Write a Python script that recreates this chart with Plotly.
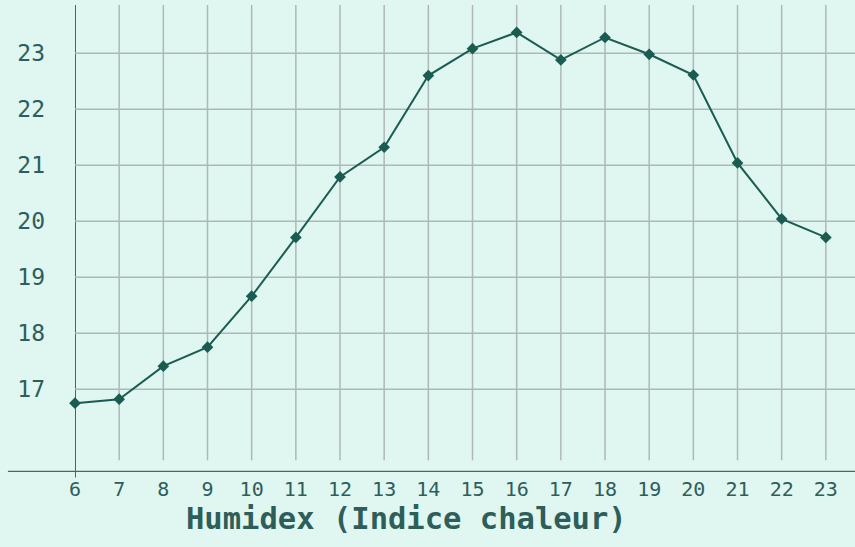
import plotly.graph_objects as go

hours = list(range(6, 24))
humidex = [16.75, 16.82, 17.41, 17.75, 18.66, 19.71, 20.79, 21.32, 22.60, 23.08,
           23.37, 22.88, 23.28, 22.98, 22.61, 21.04, 20.04, 19.71]
y_ticks = [17, 18, 19, 20, 21, 22, 23]
x_title = "Humidex (Indice chaleur)"

bg = "#dff6f1"
grid = "#b0b8b7"
axis_col = "#3d6b66"
line_col = "#1b5c52"
text_col = "#2e5e5a"

x_range = [6, 23.66]
y_range = [15.52, 23.86]

fig = go.Figure()
fig.add_trace(go.Scatter(
    x=hours, y=humidex, mode="lines+markers",
    line=dict(color=line_col, width=2),
    marker=dict(symbol="diamond", size=9, color=line_col),
    hoverinfo="skip", showlegend=False, cliponaxis=False,
))

shapes = []
for h in hours[1:]:
    shapes.append(dict(type="line", xref="x", yref="y", x0=h, x1=h, y0=15.73, y1=y_range[1],
                       line=dict(color=grid, width=1.5), layer="below"))
for t in y_ticks:
    shapes.append(dict(type="line", xref="x", yref="y", x0=6, x1=x_range[1], y0=t, y1=t,
                       line=dict(color=grid, width=1.5), layer="below"))
shapes.append(dict(type="line", xref="x", yref="paper", x0=6, x1=6, y0=-0.012, y1=1,
                   line=dict(color=axis_col, width=2), layer="below"))
shapes.append(dict(type="line", xref="paper", yref="y", x0=-0.086, x1=1, y0=y_range[0], y1=y_range[0],
                   line=dict(color=axis_col, width=2.5), layer="below"))

fig.update_layout(
    width=855, height=547,
    margin=dict(l=75, r=0, t=5, b=75),
    paper_bgcolor=bg, plot_bgcolor=bg,
    shapes=shapes,
    annotations=[dict(text="<b>" + x_title + "</b>", xref="paper", yref="paper",
                      x=0.4256, y=-0.1006, xanchor="center", yanchor="middle", showarrow=False,
                      font=dict(family="DejaVu Sans Mono", size=30.5, color=text_col))],
    xaxis=dict(range=x_range, tickmode="array", tickvals=hours, ticktext=[str(h) for h in hours],
               showgrid=False, zeroline=False, showline=False, ticks="",
               ticklabelstandoff=3,
               tickfont=dict(family="DejaVu Sans Mono", size=20, color=text_col)),
    yaxis=dict(range=y_range, tickmode="array", tickvals=y_ticks, ticktext=[str(t) for t in y_ticks],
               showgrid=False, zeroline=False, showline=False, ticks="",
               ticklabelstandoff=29,
               tickfont=dict(family="DejaVu Sans Mono", size=23, color=text_col)),
)

fig.write_html("out.html", config={"displayModeBar": False},
               post_script="document.body.style.margin='0';document.body.style.background='" + bg + "';")
